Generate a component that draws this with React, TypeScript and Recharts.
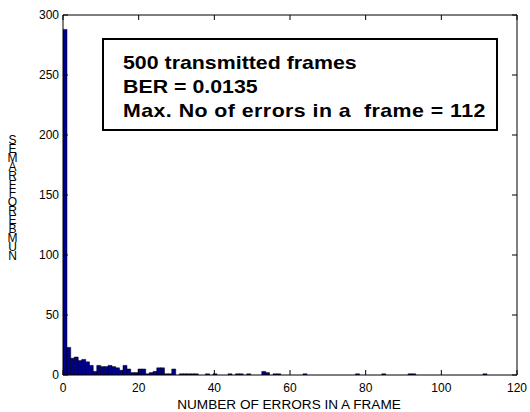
import React from "react";
import { BarChart, Bar, XAxis, YAxis } from "recharts";

// Histogram counts: number of frames with k errors, k = 0..112
const COUNTS = [
  288, 23, 14, 15, 12, 13, 11, 8, 3, 8,
  7, 7, 8, 7, 6, 4, 8, 5, 2, 2,
  5, 5, 1, 2, 3, 6, 6, 1, 1, 5,
  0, 1, 1, 1, 1, 1, 0, 0, 1, 0,
  1, 0, 0, 0, 1, 0, 1, 1, 0, 1,
  0, 0, 0, 3, 2, 0, 1, 1, 0, 0,
  0, 0, 0, 0, 1, 0, 0, 0, 0, 0,
  0, 0, 0, 0, 0, 0, 0, 0, 1, 0,
  0, 0, 0, 0, 0, 1, 0, 0, 0, 0,
  0, 0, 1, 1, 0, 0, 0, 0, 0, 0,
  0, 0, 0, 0, 0, 0, 0, 0, 0, 0,
  0, 0, 1,
];
const MAX_ERRORS = 112;
const X_TICKS = [0, 20, 40, 60, 80, 100, 120];
const Y_TICKS = [0, 50, 100, 150, 200, 250, 300];
const X_LABEL = "NUMBER OF ERRORS IN A FRAME";
const Y_LABEL_LETTERS = ["S", "E", "M", "A", "R", "F", "F", "O", "R", "E", "B", "M", "U", "N"];
const NOTE_LINES = ["500 transmitted frames", "BER = 0.0135", "Max. No of errors in a  frame = 112"];

const binWidth = MAX_ERRORS / COUNTS.length;
const data = COUNTS.map((n, i) => ({ x: (i + 0.5) * binWidth, n }));

const FONT = "'Liberation Sans', Arial, Helvetica, sans-serif";
const W = 530;
const H = 412;
const M = { top: 14, right: 12, bottom: 36, left: 62 };

const BottomTick = (props: any) => {
  const { x, y, payload } = props;
  return (
    <g>
      <line x1={x} x2={x} y1={y} y2={y - 5} stroke="#000" strokeWidth={1} />
      <text x={x} y={y + 17} textAnchor="middle" fontSize={12} fontFamily={FONT} fill="#000">
        {payload.value}
      </text>
    </g>
  );
};
const TopTick = (props: any) => {
  const { x, y } = props;
  return <line x1={x} x2={x} y1={y} y2={y + 5} stroke="#000" strokeWidth={1} />;
};
const LeftTick = (props: any) => {
  const { x, y, payload } = props;
  return (
    <g>
      <line x1={x} x2={x + 5} y1={y} y2={y} stroke="#000" strokeWidth={1} />
      <text x={x - 4} y={y + 4} textAnchor="end" fontSize={12} fontFamily={FONT} fill="#000">
        {payload.value}
      </text>
    </g>
  );
};
const RightTick = (props: any) => {
  const { x, y } = props;
  return <line x1={x} x2={x - 5} y1={y} y2={y} stroke="#000" strokeWidth={1} />;
};

export default function App() {
  return (
    <div style={{ position: "fixed", left: 0, top: 0, width: W, height: H, background: "#fff" }}>
      <BarChart width={W} height={H} data={data} margin={M} barCategoryGap={0} barGap={0}>
        <XAxis
          xAxisId="b"
          dataKey="x"
          type="number"
          domain={[0, 120]}
          ticks={X_TICKS}
          height={1}
          tickSize={0}
          tickMargin={0}
          tick={<BottomTick />}
          axisLine={{ stroke: "#000", strokeWidth: 1 }}
          tickLine={false}
          allowDataOverflow
          interval={0}
        />
        <XAxis
          xAxisId="t"
          orientation="top"
          type="number"
          dataKey="x"
          domain={[0, 120]}
          ticks={X_TICKS}
          height={1}
          tickSize={0}
          tickMargin={0}
          tick={<TopTick />}
          axisLine={{ stroke: "#000", strokeWidth: 1 }}
          tickLine={false}
          allowDataOverflow
          interval={0}
        />
        <YAxis
          yAxisId="l"
          type="number"
          domain={[0, 300]}
          ticks={Y_TICKS}
          width={1}
          tickSize={0}
          tickMargin={0}
          tick={<LeftTick />}
          axisLine={{ stroke: "#000", strokeWidth: 1 }}
          tickLine={false}
          allowDataOverflow
          interval={0}
        />
        <YAxis
          yAxisId="r"
          orientation="right"
          type="number"
          domain={[0, 300]}
          ticks={Y_TICKS}
          width={1}
          tickSize={0}
          tickMargin={0}
          tick={<RightTick />}
          axisLine={{ stroke: "#000", strokeWidth: 1 }}
          tickLine={false}
          allowDataOverflow
          interval={0}
        />
        <Bar
          xAxisId="b"
          yAxisId="l"
          dataKey="n"
          fill="#00008F"
          stroke="#000"
          strokeWidth={0.5}
          isAnimationActive={false}
        />
      </BarChart>
      <svg width={W} height={H} style={{ position: "absolute", left: 0, top: 0, pointerEvents: "none" }}>
        <text x={289} y={409} textAnchor="middle" fontSize={13.6} fontFamily={FONT} fill="#000">
          {X_LABEL}
        </text>
        <text fontSize={12} fontFamily={FONT} fill="#000" textAnchor="middle">
          {Y_LABEL_LETTERS.map((c, i) => (
            <tspan key={i} x={12.5} y={144 + i * 8.9}>
              {c}
            </tspan>
          ))}
        </text>
        <rect x={103} y={39} width={394} height={91} fill="#fff" stroke="#000" strokeWidth={2} />
        {NOTE_LINES.map((t, i) => (
          <text
            key={i}
            transform={`translate(123,${69 + i * 24}) scale(1.22,1)`}
            fontSize={17.5}
            fontWeight="bold"
            fontFamily={FONT}
            fill="#000"
            style={{ whiteSpace: "pre" }}
            {...(i === 2 ? { textLength: 297, lengthAdjust: "spacing" } : {})}
          >
            {t}
          </text>
        ))}
      </svg>
    </div>
  );
}
